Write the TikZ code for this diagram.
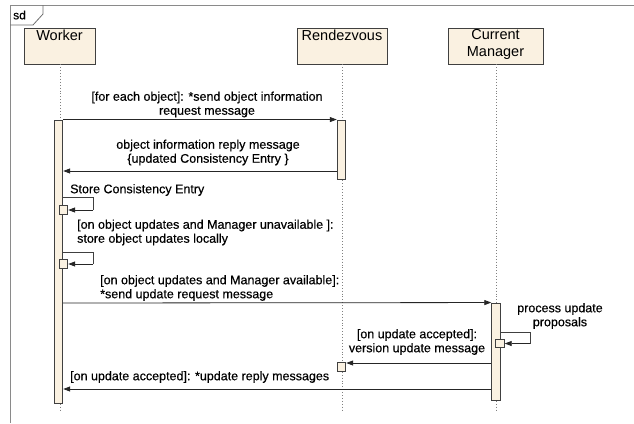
\documentclass[tikz,border=0pt]{standalone}
\usepackage{fontspec}
\setmainfont{Liberation Sans}
\newfontfamily\msgfont[FakeBold=0.35]{Liberation Sans}
\usetikzlibrary{arrows.meta}
\definecolor{boxfill}{HTML}{FAF1E1}
\definecolor{edge}{HTML}{404040}
\definecolor{framecol}{HTML}{8A8A8A}
\begin{document}
\begin{tikzpicture}[x=1pt,y=-1pt,
  actor/.style={draw=edge,fill=boxfill,line width=0.9pt,inner sep=0pt,minimum height=36pt},
  alabel/.style={inner sep=0pt,anchor=north,font=\fontsize{14.5}{17}\selectfont,align=center},
  act/.style={draw=edge,fill=boxfill,line width=0.9pt,inner sep=0pt,minimum width=8.5pt},
  mini/.style={draw=edge,fill=boxfill,line width=0.9pt,inner sep=0pt,minimum width=8.5pt,minimum height=8.5pt},
  life/.style={draw=gray,dotted,line width=0.9pt},
  msg/.style={draw=black!85,line width=0.8pt,-{Triangle[length=7pt,width=5pt]}},
  loopl/.style={draw=edge,line width=0.8pt},
  lbl/.style={font=\msgfont\fontsize{12.5}{14}\selectfont,inner sep=0pt,align=center}]
\useasboundingbox (0,0) rectangle (634,423);
\fill[white] (0,0) rectangle (634,423);
% frame
\draw[framecol,line width=0.9pt] (10,423) -- (10,5) -- (634,5);
\draw[framecol!80!black,line width=0.8pt] (10,25) -- (33,25) -- (43,14) -- (43,5);
\node[anchor=west,inner sep=0pt,font=\msgfont\fontsize{12}{14}\selectfont] (sd) at (13,15) {sd};
% actors
\node[actor,minimum width=71pt] (worker) at (59.5,46) {};
\node[actor,minimum width=90pt] (rdv) at (342,46) {};
\node[actor,minimum width=95pt] (mgr) at (495.5,46) {};
\node[alabel] (tw) at ([yshift=-2pt]worker.north) {Worker};
\node[alabel] (tr) at ([yshift=-2pt]rdv.north) {Rendezvous};
\node[alabel] (tm) at ([yshift=-2pt]mgr.north) {Current\\Manager};
% lifelines
\coordinate (wEnd) at (60,410);
\coordinate (rEnd) at (342,410);
\coordinate (mEnd) at (496,410);
\draw[life] (worker.south -| wEnd) -- (wEnd);
\draw[life] (rdv.south) -- (rEnd);
\draw[life] (mgr.south -| mEnd) -- (mEnd);
% activations
\node[act,minimum height=283pt] (aW) at (58.5,261.5) {};
\node[act,minimum height=59pt] (aR) at (341.5,149.5) {};
\node[act,minimum height=97pt] (aM) at (496,351.5) {};
% self call boxes
\node[mini] (s1) at (63.5,210) {};
\node[mini] (s2) at (63.5,264) {};
\node[mini] (s3) at (500,343.5) {};
\node[mini] (s4) at (341.5,367) {};
% message 1
\node[lbl] (l1) at (207,104.5) {[for each object]: *send object information\\request message};
\draw[msg] (aW.north east) -- (aR.north west);
% message 2
\node[lbl] (l2) at (208,152.5) {object information reply message\\\{updated Consistency Entry \}};
\draw[msg] (aR.west |- 0,171) -- (aW.east |- 0,171);
% self 1
\node[lbl,anchor=west] (l3) at (70,190) {Store Consistency Entry};
\draw[loopl] (aW.east |- 0,197.5) -| (93,210);
\draw[msg] (93,210) -- (s1.east);
% self 2
\node[lbl,anchor=west,align=left] (l4) at (77,232.5) {[on object updates and Manager unavailable ]:\\store object updates locally};
\draw[loopl] (aW.east |- 0,252) -| (93,264);
\draw[msg] (93,264) -- (s2.east);
% message 5
\node[lbl,anchor=west,align=left] (l5) at (100,288) {[on object updates and Manager available]:\\*send update request message};
\draw[msg] (aW.east |- 0,303) -- (aM.north west);
% process
\node[lbl] (l6) at (560,316) {process update\\proposals};
\draw[loopl] (aM.east |- 0,332) -| (530,343.5);
\draw[msg] (530,343.5) -- (s3.east);
% message 7
\node[lbl] (l7) at (417,342) {[on update accepted]:\\version update message};
\draw[msg] (aM.west |- 0,363) -- (s4.east |- 0,363);
% message 8
\node[lbl,anchor=west] (l8) at (70,377) {[on update accepted]: *update reply messages};
\draw[msg] (aM.west |- 0,389) -- (aW.east |- 0,389);
\end{tikzpicture}
\end{document}
